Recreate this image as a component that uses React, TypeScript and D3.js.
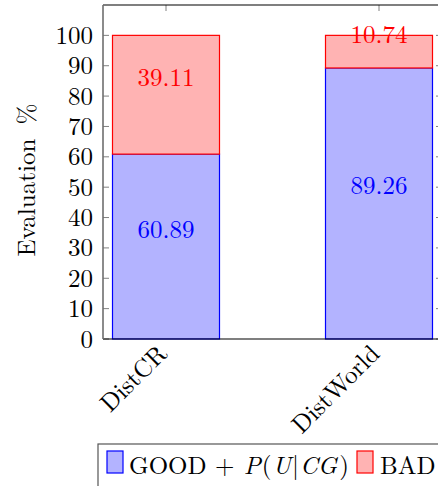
import React from "react";
import * as d3 from "d3";

const categories = ["DistCR", "DistWorld"];
const goodValues = [60.89, 89.26];
const badValues = [39.11, 10.74];
const yTicks = [0, 10, 20, 30, 40, 50, 60, 70, 80, 90, 100];
const seriesNames = ["GOOD + ", "BAD"];

const FONT = "\"Latin Modern Roman\"";

export default function App() {
  const W = 438, H = 486;
  const left = 103, right = 442, top = 5, bottom = 339;
  const y = d3.scaleLinear().domain([0, 110]).range([bottom, top]);
  const x = d3.scalePoint<string>().domain(categories).range([166, 379]);
  const barW = 107;

  const stacks = categories.map((c, i) => ({
    c,
    good: goodValues[i],
    bad: badValues[i],
  }));

  const ts = { fontFamily: FONT, fontSize: "25px" } as React.CSSProperties;

  return (
    <svg width={W} height={H} style={{ position: "absolute", left: 0, top: 0, background: "#fff" }}>
      {stacks.map((s) => {
        const cx = x(s.c)!;
        const g0 = y(0), g1 = y(s.good), b1 = y(s.good + s.bad);
        return (
          <g key={s.c}>
            <rect x={cx - barW / 2} y={g1} width={barW} height={g0 - g1} fill="#b3b3ff" stroke="#0000ff" strokeWidth={1.2} />
            <rect x={cx - barW / 2} y={b1} width={barW} height={g1 - b1} fill="#ffb3b3" stroke="#ff0000" strokeWidth={1.2} />
            <text x={cx} y={(g0 + g1) / 2 - 9} textAnchor="middle" style={ts} fill="#0000ff">{s.good.toFixed(2)}</text>
            <text x={cx} y={(g1 + b1) / 2 - 9} textAnchor="middle" style={ts} fill="#ff0000">{s.bad.toFixed(2)}</text>
          </g>
        );
      })}
      {yTicks.map((t) => (
        <g key={t}>
          <line x1={left} x2={left + 6} y1={y(t)} y2={y(t)} stroke="#808080" strokeWidth={1} />
          <line x1={right - 6} x2={right} y1={y(t)} y2={y(t)} stroke="#808080" strokeWidth={1} />
          <text x={93} y={y(t)} dy="0.34em" textAnchor="end" style={ts} fill="#000">{t}</text>
        </g>
      ))}
      {categories.map((c) => (
        <line key={c} x1={x(c)!} x2={x(c)!} y1={top} y2={top + 6} stroke="#808080" strokeWidth={1} />
      ))}
      <line x1={left} x2={right} y1={top} y2={top} stroke="#000" strokeWidth={1.2} />
      <line x1={left} x2={right} y1={bottom} y2={bottom} stroke="#000" strokeWidth={1.2} />
      <line x1={left} x2={left} y1={top} y2={bottom} stroke="#6e6e6e" strokeWidth={1.6} />
      <line x1={right} x2={right} y1={top} y2={bottom} stroke="#000" strokeWidth={1.2} />
      {categories.map((c) => (
        <text key={c} transform={`translate(${x(c)! - 4},${bottom + 10}) rotate(-45)`} textAnchor="end" dy="0.35em" style={ts} fill="#000">{c}</text>
      ))}
      <text transform={`translate(35,${(top + bottom) / 2 + 8}) rotate(-90)`} textAnchor="middle" style={ts} fill="#000">Evaluation <tspan dx="6">%</tspan></text>
      <rect x={98} y={444} width={350} height={50} fill="#fff" stroke="#555" strokeWidth={1.2} />
      <rect x={107} y={451} width={16} height={22} fill="#b3b3ff" stroke="#0000ff" strokeWidth={1.2} />
      <text x={129} y={474} style={ts} fill="#000">
        {seriesNames[0]}
        <tspan dx="1" fontStyle="italic">P</tspan>
        <tspan dx="1">(</tspan>
        <tspan dx="1" fontStyle="italic">U</tspan>
        <tspan dx="1">|</tspan>
        <tspan dx="1" fontStyle="italic">CG</tspan>
        <tspan dx="2">)</tspan>
      </text>
      <rect x={357} y={451} width={16} height={22} fill="#ffb3b3" stroke="#ff0000" strokeWidth={1.2} />
      <text x={380} y={474} style={ts} fill="#000">{seriesNames[1]}</text>
    </svg>
  );
}
